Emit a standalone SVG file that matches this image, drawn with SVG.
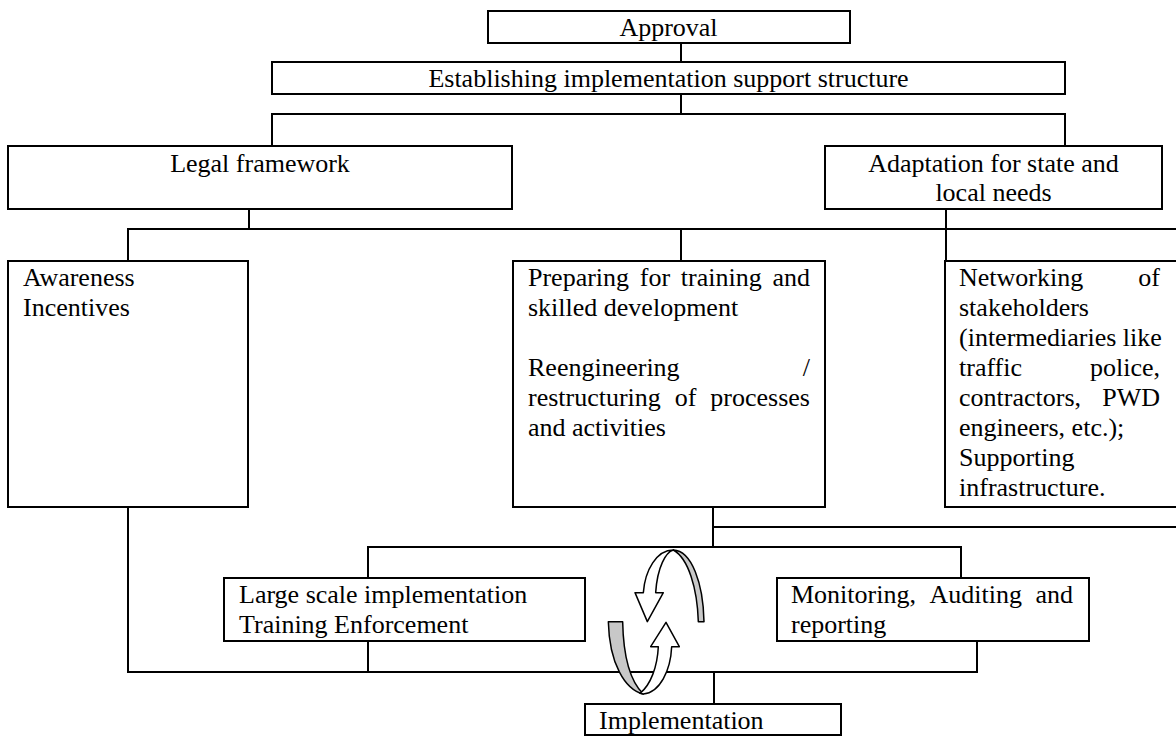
<svg xmlns="http://www.w3.org/2000/svg" width="1176" height="736" viewBox="0 0 1176 736">
<style>
.box{fill:#fff;stroke:#000;stroke-width:2}
.ln{fill:none;stroke:#000;stroke-width:2}
.t{font-family:"Liberation Serif","Times New Roman",serif;font-size:26px;fill:#000}
.c{text-anchor:middle}
.e{text-anchor:end}
.aw{fill:#fff;stroke:#000;stroke-width:4.5;stroke-linejoin:round}
.ag{fill:#c8c8c8;stroke:#000;stroke-width:4.5;stroke-linejoin:round}
</style>
<rect width="1176" height="736" fill="#fff"/>
<g id="connectors">
<path class="ln" d="M681 43V62"/>
<path class="ln" d="M681 94V114"/>
<path class="ln" d="M272 146V114H1065V146"/>
<path class="ln" d="M249 209V229"/>
<path class="ln" d="M128 261V229H1176"/>
<path class="ln" d="M681 229V261"/>
<path class="ln" d="M946 209V261"/>
<path class="ln" d="M713 507V547"/>
<path class="ln" d="M713 527H1176"/>
<path class="ln" d="M368 578V547H961V578"/>
<path class="ln" d="M128 507V672H977V641"/>
<path class="ln" d="M368 641V672"/>
<path class="ln" d="M714 672V704"/>
</g>
<g id="approval">
<rect class="box" x="488" y="11" width="362" height="32"/>
<text class="t c" x="668.5" y="36">Approval</text>
</g>
<g id="establishing">
<rect class="box" x="272" y="62" width="793" height="32"/>
<text class="t c" x="668.5" y="87">Establishing implementation support structure</text>
</g>
<g id="legal">
<rect class="box" x="8" y="146" width="504" height="63"/>
<text class="t c" x="260" y="172">Legal framework</text>
</g>
<g id="adaptation">
<rect class="box" x="825" y="146" width="337" height="63"/>
<text class="t c" x="993.5" y="172">Adaptation for state and</text>
<text class="t c" x="993.5" y="201">local needs</text>
</g>
<g id="awareness">
<rect class="box" x="8" y="261" width="240" height="246"/>
<text class="t" x="23" y="286">Awareness</text>
<text class="t" x="23" y="316">Incentives</text>
</g>
<g id="preparing">
<rect class="box" x="513" y="261" width="312" height="246"/>
<text class="t" y="286"><tspan x="528">Preparing</tspan><tspan x="639.8">for</tspan><tspan x="680.8">training</tspan></text>
<text class="t e" x="810" y="286">and</text>
<text class="t" x="528" y="316">skilled development</text>
<text class="t" x="528" y="376">Reengineering</text>
<text class="t e" x="810" y="376">/</text>
<text class="t" y="406"><tspan x="528">restructuring</tspan><tspan x="674.8">of</tspan></text>
<text class="t e" x="810" y="406">processes</text>
<text class="t" x="528" y="436">and activities</text>
</g>
<g id="networking">
<rect class="box" x="945" y="261" width="240" height="246"/>
<text class="t" x="959" y="286">Networking</text>
<text class="t e" x="1160" y="286">of</text>
<text class="t" x="959" y="316">stakeholders</text>
<text class="t" x="959" y="346">(intermediaries like</text>
<text class="t" x="959" y="376">traffic</text>
<text class="t e" x="1160" y="376">police,</text>
<text class="t" x="959" y="406">contractors,</text>
<text class="t e" x="1160" y="406">PWD</text>
<text class="t" x="959" y="436">engineers, etc.);</text>
<text class="t" x="959" y="466">Supporting</text>
<text class="t" x="959" y="496">infrastructure.</text>
</g>
<g id="large-scale">
<rect class="box" x="224" y="578" width="361" height="63"/>
<text class="t" x="239" y="603">Large scale implementation</text>
<text class="t" x="239" y="633">Training Enforcement</text>
</g>
<g id="monitoring">
<rect class="box" x="777" y="578" width="312" height="63"/>
<text class="t" y="603"><tspan x="791">Monitoring,</tspan><tspan x="929.5">Auditing</tspan></text>
<text class="t e" x="1073" y="603">and</text>
<text class="t" x="791" y="633">reporting</text>
</g>
<g id="implementation">
<rect class="box" x="585" y="704" width="256" height="31"/>
<text class="t" x="599" y="729">Implementation</text>
</g>
<g id="cycle-arrows" transform="translate(560 530) scale(0.33333)">
<path class="ag" d="M340 60C395 62 430 160 432 275L415 275C412 175 385 85 340 60Z"/>
<path class="aw" d="M287 188L310 188L262 275L225 188L250 188C255 120 290 60 340 60C318 66 292 110 287 188Z"/>
<path class="ag" d="M145 275L188 275C190 380 212 455 250 492C195 480 148 400 145 275Z"/>
<path class="aw" d="M250 492C300 488 332 420 335 350L358 350L318 277L272 350L295 350C292 410 272 465 240 490Z"/>
</g>
</svg>
